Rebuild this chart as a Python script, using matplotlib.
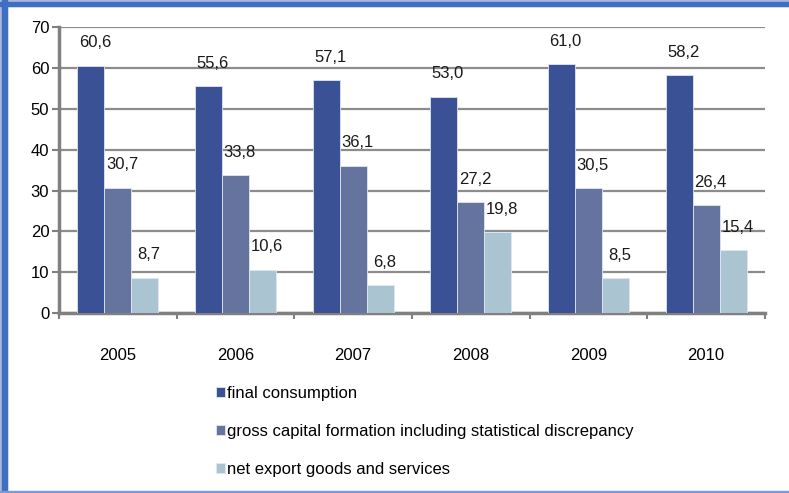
import matplotlib.pyplot as plt
import matplotlib.patches as mpatches
import numpy as np

plt.rcParams['font.family'] = ['Liberation Sans', 'DejaVu Sans']

years = ['2005', '2006', '2007', '2008', '2009', '2010']
final_consumption = [60.6, 55.6, 57.1, 53.0, 61.0, 58.2]
gross_capital = [30.7, 33.8, 36.1, 27.2, 30.5, 26.4]
net_export = [8.7, 10.6, 6.8, 19.8, 8.5, 15.4]

series_names = ['final consumption',
                'gross capital formation including statistical discrepancy',
                'net export goods and services']
colors = ['#3a5195', '#64749f', '#aac4d2']

fig = plt.figure(figsize=(7.89, 4.93), dpi=100)
ax = fig.add_axes([0.0748, 0.365, 0.8948, 0.580])

x = np.arange(len(years))
w = 0.23
handles = []
for i, (vals, name, c) in enumerate(zip([final_consumption, gross_capital, net_export], series_names, colors)):
    pos = x + (i - 1) * w
    bars = ax.bar(pos, vals, width=w, color=c, edgecolor='#dfe6f2', linewidth=0.6, label=name, zorder=3)
    handles.append(bars)
    for xp, v in zip(pos, vals):
        ax.annotate(f'{v:.1f}'.replace('.', ','), (xp, v), xytext=(3, 11), textcoords='offset points',
                    ha='center', va='bottom', fontsize=12, color='#1a1a1a')

ax.set_xlim(-0.5, len(years) - 0.5)
ax.set_ylim(0, 70)
ax.set_yticks(range(0, 71, 10))
ax.yaxis.grid(True, color='#8c8c8c', linewidth=1.6, zorder=0)
ax.set_axisbelow(True)

ax.set_xticks(x)
ax.set_xticklabels(years, fontsize=12)
ax.set_xticks(np.arange(-0.5, len(years)), minor=True)
ax.tick_params(axis='x', which='major', length=0, pad=25)
ax.tick_params(axis='x', which='minor', length=4, color='#808080', width=1.5)
ax.tick_params(axis='y', length=5, color='#808080', width=1.5, labelsize=12, pad=2)

for s in ['top', 'right']:
    ax.spines[s].set_visible(False)
for s in ['left', 'bottom']:
    ax.spines[s].set_color('#808080')
    ax.spines[s].set_linewidth(2.5)

fig.legend(handles=handles, loc='upper left', bbox_to_anchor=(0.265, 0.231),
           frameon=False, fontsize=12, handlelength=0.55, handleheight=0.55,
           handletextpad=0.15, labelspacing=1.38, borderaxespad=0)

# blue frame around the picture
fig.patches.append(mpatches.Rectangle((0, 0), 0.0095, 1, transform=fig.transFigure,
                                      color='#a9b7e0', zorder=0))
fig.patches.append(mpatches.Rectangle((0.0025, 0), 0.006, 1, transform=fig.transFigure,
                                      color='#3f6fc0', zorder=1))
fig.patches.append(mpatches.Rectangle((0, 0.988), 1, 0.012, transform=fig.transFigure,
                                      color='#a9b7e0', zorder=0))
fig.patches.append(mpatches.Rectangle((0, 0.988), 1, 0.008, transform=fig.transFigure,
                                      color='#3f6fc0', zorder=1))
fig.patches.append(mpatches.Rectangle((0, 0.001), 1, 0.003, transform=fig.transFigure,
                                      color='#7a9ad6', zorder=1))

fig.savefig('out.png', dpi=100)
